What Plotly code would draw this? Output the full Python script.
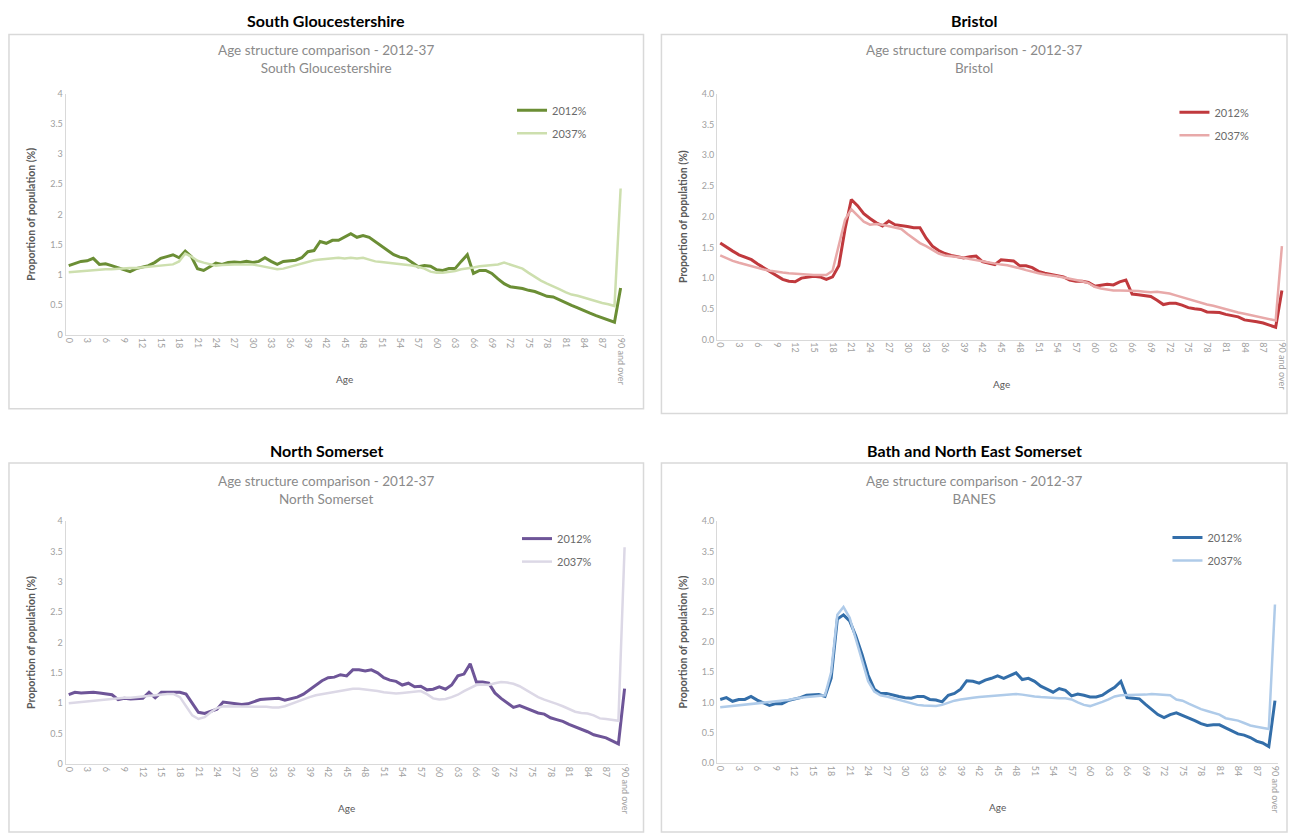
import plotly.graph_objects as go

W, H = 1293, 837

ages = [str(i) for i in range(90)] + ["90 and over"]

sg_2012 = [1.15, 1.18, 1.22, 1.23, 1.27, 1.17, 1.18, 1.15, 1.12, 1.08,
           1.05, 1.10, 1.12, 1.15, 1.20, 1.27, 1.30, 1.33, 1.28, 1.39,
           1.30, 1.10, 1.07, 1.13, 1.19, 1.17, 1.20, 1.21, 1.20, 1.22,
           1.20, 1.22, 1.28, 1.22, 1.17, 1.22, 1.23, 1.24, 1.28, 1.38,
           1.40, 1.55, 1.52, 1.57, 1.57, 1.63, 1.68, 1.62, 1.65, 1.62,
           1.55, 1.47, 1.40, 1.33, 1.29, 1.27, 1.20, 1.13, 1.15, 1.14,
           1.08, 1.07, 1.10, 1.10, 1.22, 1.33, 1.02, 1.07, 1.07, 1.02,
           0.93, 0.85, 0.80, 0.79, 0.77, 0.74, 0.72, 0.68, 0.64, 0.63,
           0.58, 0.54, 0.49, 0.45, 0.40, 0.36, 0.32, 0.28, 0.25, 0.21,
           0.78]
sg_2037 = [1.04, 1.05, 1.06, 1.07, 1.08, 1.08, 1.09, 1.09, 1.10, 1.10,
           1.11, 1.11, 1.12, 1.13, 1.14, 1.15, 1.16, 1.17, 1.22, 1.35,
           1.30, 1.23, 1.20, 1.17, 1.15, 1.16, 1.17, 1.17, 1.17, 1.17,
           1.17, 1.15, 1.13, 1.11, 1.09, 1.10, 1.13, 1.16, 1.19, 1.21,
           1.24, 1.25, 1.26, 1.27, 1.28, 1.27, 1.28, 1.27, 1.28, 1.25,
           1.22, 1.21, 1.20, 1.19, 1.18, 1.17, 1.15, 1.13, 1.10, 1.05,
           1.03, 1.03, 1.04, 1.06, 1.09, 1.10, 1.12, 1.14, 1.15, 1.15,
           1.17, 1.20, 1.17, 1.14, 1.10, 1.03, 0.96, 0.90, 0.85, 0.81,
           0.76, 0.71, 0.67, 0.65, 0.62, 0.58, 0.55, 0.53, 0.51, 0.48,
           2.43]

bristol_2012 = [1.57, 1.50, 1.44, 1.38, 1.34, 1.30, 1.23, 1.17, 1.11, 1.04,
                0.98, 0.95, 0.94, 1.00, 1.01, 1.03, 1.02, 0.98, 1.02, 1.20,
                1.80, 2.28, 2.18, 2.05, 1.97, 1.90, 1.85, 1.93, 1.87, 1.86,
                1.84, 1.82, 1.82, 1.65, 1.52, 1.45, 1.40, 1.37, 1.35, 1.33,
                1.35, 1.36, 1.27, 1.25, 1.22, 1.30, 1.29, 1.28, 1.20, 1.20,
                1.17, 1.11, 1.08, 1.06, 1.05, 1.02, 0.97, 0.95, 0.95, 0.93,
                0.87, 0.88, 0.90, 0.89, 0.94, 0.97, 0.74, 0.73, 0.72, 0.70,
                0.64, 0.57, 0.59, 0.59, 0.56, 0.52, 0.50, 0.49, 0.45, 0.44,
                0.44, 0.41, 0.39, 0.37, 0.32, 0.31, 0.29, 0.27, 0.24, 0.20,
                0.80]
bristol_2037 = [1.37, 1.32, 1.28, 1.25, 1.22, 1.19, 1.16, 1.14, 1.12, 1.10,
                1.09, 1.08, 1.07, 1.06, 1.06, 1.05, 1.05, 1.05, 1.12, 1.55,
                1.95, 2.12, 2.02, 1.92, 1.87, 1.88, 1.87, 1.85, 1.82, 1.80,
                1.72, 1.65, 1.57, 1.52, 1.46, 1.40, 1.37, 1.36, 1.35, 1.33,
                1.31, 1.29, 1.27, 1.25, 1.24, 1.22, 1.21, 1.19, 1.16, 1.13,
                1.10, 1.08, 1.06, 1.05, 1.03, 1.01, 0.99, 0.98, 0.95, 0.92,
                0.86, 0.83, 0.81, 0.80, 0.80, 0.80, 0.80, 0.79, 0.78, 0.77,
                0.78, 0.77, 0.75, 0.72, 0.69, 0.66, 0.62, 0.59, 0.57, 0.55,
                0.52, 0.49, 0.46, 0.44, 0.42, 0.40, 0.37, 0.35, 0.33, 0.31,
                1.52]

ns_2012 = [1.14, 1.18, 1.17, 1.18, 1.18, 1.17, 1.15, 1.14, 1.06, 1.08,
           1.07, 1.08, 1.08, 1.18, 1.09, 1.18, 1.18, 1.18, 1.18, 1.15,
           1.00, 0.85, 0.83, 0.87, 0.90, 1.02, 1.01, 1.00, 0.98, 0.99,
           1.03, 1.06, 1.07, 1.08, 1.08, 1.05, 1.08, 1.10, 1.15, 1.22,
           1.30, 1.37, 1.42, 1.43, 1.47, 1.45, 1.55, 1.55, 1.53, 1.55,
           1.50, 1.42, 1.38, 1.36, 1.30, 1.33, 1.27, 1.28, 1.22, 1.23,
           1.27, 1.23, 1.30, 1.45, 1.48, 1.65, 1.35, 1.35, 1.33, 1.17,
           1.08, 1.00, 0.93, 0.96, 0.92, 0.87, 0.84, 0.82, 0.76, 0.73,
           0.70, 0.65, 0.61, 0.58, 0.53, 0.48, 0.45, 0.43, 0.38, 0.33,
           1.24]
ns_2037 = [1.00, 1.01, 1.02, 1.04, 1.05, 1.06, 1.07, 1.08, 1.08, 1.09,
           1.09, 1.10, 1.12, 1.13, 1.14, 1.15, 1.15, 1.15, 1.10, 0.95,
           0.80, 0.74, 0.77, 0.85, 0.92, 0.95, 0.95, 0.95, 0.94, 0.94,
           0.94, 0.95, 0.94, 0.93, 0.93, 0.95, 0.99, 1.03, 1.07, 1.10,
           1.13, 1.15, 1.17, 1.18, 1.20, 1.22, 1.24, 1.24, 1.23, 1.22,
           1.20, 1.18, 1.17, 1.16, 1.17, 1.18, 1.19, 1.20, 1.15, 1.08,
           1.06, 1.07, 1.10, 1.14, 1.20, 1.25, 1.30, 1.31, 1.30, 1.33,
           1.35, 1.34, 1.32, 1.28, 1.22, 1.15, 1.10, 1.06, 1.03, 0.99,
           0.95, 0.90, 0.86, 0.84, 0.83, 0.80, 0.75, 0.74, 0.73, 0.71,
           3.57]

banes_2012 = [1.05, 1.08, 1.02, 1.05, 1.05, 1.10, 1.04, 1.00, 0.95, 0.98,
              0.98, 1.03, 1.05, 1.08, 1.12, 1.13, 1.13, 1.10, 1.40, 2.38,
              2.45, 2.35, 2.10, 1.80, 1.45, 1.22, 1.15, 1.15, 1.12, 1.10,
              1.08, 1.07, 1.10, 1.10, 1.05, 1.04, 1.01, 1.12, 1.15, 1.22,
              1.36, 1.35, 1.32, 1.37, 1.40, 1.44, 1.40, 1.45, 1.49, 1.38,
              1.40, 1.35, 1.27, 1.22, 1.17, 1.23, 1.20, 1.11, 1.14, 1.12,
              1.09, 1.09, 1.12, 1.19, 1.25, 1.35, 1.08, 1.07, 1.06, 0.97,
              0.88, 0.80, 0.75, 0.80, 0.83, 0.79, 0.75, 0.70, 0.65, 0.62,
              0.63, 0.63, 0.58, 0.53, 0.48, 0.46, 0.42, 0.36, 0.33, 0.27,
              1.03]
banes_2037 = [0.92, 0.93, 0.95, 0.96, 0.97, 0.98, 0.99, 1.00, 1.01, 1.02,
              1.03, 1.04, 1.06, 1.08, 1.09, 1.10, 1.11, 1.12, 1.50, 2.45,
              2.58, 2.40, 2.05, 1.70, 1.35, 1.18, 1.12, 1.10, 1.07, 1.05,
              1.02, 0.98, 0.96, 0.95, 0.94, 0.94, 0.96, 1.00, 1.03, 1.05,
              1.07, 1.08, 1.09, 1.10, 1.11, 1.12, 1.13, 1.13, 1.14, 1.13,
              1.11, 1.10, 1.09, 1.08, 1.07, 1.07, 1.07, 1.05, 1.00, 0.96,
              0.94, 0.97, 1.01, 1.05, 1.10, 1.12, 1.12, 1.12, 1.12, 1.13,
              1.14, 1.13, 1.13, 1.12, 1.05, 1.03, 0.98, 0.93, 0.89, 0.86,
              0.83, 0.80, 0.74, 0.72, 0.70, 0.66, 0.62, 0.60, 0.58, 0.56,
              2.62]

series_names = ["2012%", "2037%"]

panels = [
    dict(head="South Gloucestershire", sub="South Gloucestershire",
         data=[sg_2012, sg_2037], colors=["#6b8e35", "#cddfae"],
         box=(7, 29, 644, 408), plot=(63.9, 333.3, 624.1, 89.0),
         head_y=15, sub_y=54, legend=(512, 100), fmt=None),
    dict(head="Bristol", sub="Bristol",
         data=[bristol_2012, bristol_2037], colors=["#c0393d", "#e8a9a9"],
         box=(662, 29, 1290, 413), plot=(717.9, 338.0, 1288.0, 89.0),
         head_y=15, sub_y=54, legend=(1177, 102), fmt=".1f"),
    dict(head="North Somerset", sub="North Somerset",
         data=[ns_2012, ns_2037], colors=["#6e5598", "#dcd8e6"],
         box=(7, 463, 644, 837), plot=(63.9, 768.0, 628.1, 522.0),
         head_y=450, sub_y=490, legend=(517, 534), fmt=None),
    dict(head="Bath and North East Somerset", sub="BANES",
         data=[banes_2012, banes_2037], colors=["#336ea9", "#afcbe9"],
         box=(662, 463, 1290, 837), plot=(717.9, 767.0, 1281.0, 522.0),
         head_y=450, sub_y=490, legend=(1170, 533), fmt=".1f"),
]

line_widths = [3.0, 2.5]

FONT = "Lato"
fig = go.Figure()
layout = dict(
    width=W, height=H, margin=dict(l=0, r=0, t=0, b=0),
    paper_bgcolor="white", plot_bgcolor="white",
    font=dict(family=FONT, color="#595959"),
    shapes=[], annotations=[],
)

for i, p in enumerate(panels):
    n = "" if i == 0 else str(i + 1)
    xa, ya = "x" + n, "y" + n
    lg = "legend" + n
    for s, (vals, col) in enumerate(zip(p["data"], p["colors"])):
        fig.add_trace(go.Scatter(
            x=ages, y=vals, mode="lines", name=series_names[s],
            line=dict(color=col, width=line_widths[s]), xaxis=xa, yaxis=ya,
            legend=lg, legendgroup=f"g{i}{s}", showlegend=True))
    x0, yb, x1, yt = p["plot"]
    layout["xaxis" + n] = dict(
        domain=[x0 / W, x1 / W], anchor=ya, type="category",
        categoryorder="array", categoryarray=ages,
        range=[-0.5, 90.5], tickmode="array", tickvals=ages[::3],
        tickangle=90, tickfont=dict(size=9, color="#a0a0a0"),
        showline=True, linecolor="#d9d9d9", linewidth=1,
        showgrid=False, zeroline=False, ticks="",
    )
    yd = dict(
        domain=[1 - yb / H, 1 - yt / H], anchor=xa, range=[0, 4],
        tickvals=[0, 0.5, 1, 1.5, 2, 2.5, 3, 3.5, 4],
        tickfont=dict(size=9, color="#a0a0a0"),
        showline=True, linecolor="#d9d9d9", linewidth=1,
        showgrid=False, zeroline=False, ticks="",
        title=dict(text="<b>Proportion of population (%)</b>",
                   font=dict(size=10.5, color="#595959"), standoff=12),
    )
    if p["fmt"]:
        yd["tickformat"] = p["fmt"]
    layout["yaxis" + n] = yd

    bx0, by0, bx1, by1 = p["box"]
    layout["shapes"].append(dict(
        type="rect", xref="paper", yref="paper",
        x0=bx0 / W, x1=bx1 / W, y0=1 - by1 / H, y1=1 - by0 / H,
        line=dict(color="#d9d9d9", width=1.5), fillcolor="rgba(0,0,0,0)",
        layer="below"))
    cx = (bx0 + bx1) / 2 / W
    layout["annotations"].append(dict(
        text="<b>" + p["head"] + "</b>", x=cx, y=1 - p["head_y"] / H,
        xref="paper", yref="paper", showarrow=False, xanchor="center",
        yanchor="middle", font=dict(size=16, color="#000000", family=FONT)))
    layout["annotations"].append(dict(
        text="Age structure comparison - 2012-37<br>" + p["sub"],
        x=cx, y=1 - p["sub_y"] / H, xref="paper", yref="paper",
        showarrow=False, xanchor="center", yanchor="middle", align="center",
        font=dict(size=13.5, color="#8a8a8a", family=FONT)))
    # x axis title placed beside the tall rotated tick labels, as in the reference
    layout["annotations"].append(dict(
        text="Age", x=(x0 + x1) / 2 / W, y=1 - (yb + 45) / H,
        xref="paper", yref="paper", showarrow=False, xanchor="center",
        yanchor="middle", font=dict(size=10, color="#595959", family=FONT)))
    lx, ly = p["legend"]
    layout[lg] = dict(
        x=lx / W, y=1 - (ly - 9) / H, xanchor="left", yanchor="top",
        xref="paper", yref="paper", bgcolor="rgba(0,0,0,0)",
        font=dict(size=11, color="#6a6a6a", family=FONT),
        itemwidth=30, tracegroupgap=4)

fig.update_layout(**layout)
fig.write_html("out.html", config={"displayModeBar": False},
               post_script="document.body.style.margin='0';document.body.style.overflow='hidden';")
